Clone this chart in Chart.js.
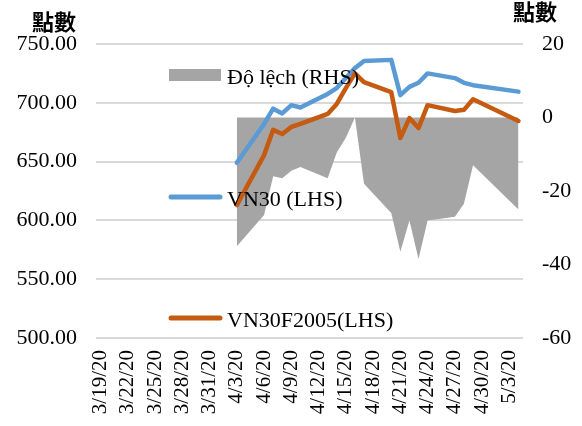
<!DOCTYPE html>
<html lang="vi">
<head>
  <meta charset="UTF-8" />
  <title>VN30 vs VN30F2005</title>
  <script src="https://cdn.jsdelivr.net/npm/chart.js"></script>
  <style>
    html, body { margin: 0; padding: 0; background: #fff; }
    #wrap { width: 582px; height: 426px; }
  </style>
</head>
<body>
  <div id="wrap"><canvas id="chart" width="582" height="426"></canvas></div>

  <script>
    // axis runs day by day from 3/19/20 to 5/4/20, labels every 3 days
    const axisStart = '3/19/20';
    const axisEnd = '5/4/20';
    const labelEvery = 3;

    const tradeDates = ['4/3/20', '4/6/20', '4/7/20', '4/8/20', '4/9/20', '4/10/20',
      '4/13/20', '4/14/20', '4/15/20', '4/16/20', '4/17/20', '4/20/20', '4/21/20',
      '4/22/20', '4/23/20', '4/24/20', '4/27/20', '4/28/20', '4/29/20', '5/4/20'];
    const vn30 = [649, 682, 695, 691, 698, 696, 707.5, 712.5, 721, 729.5, 735.5, 736.5,
      706.5, 713.5, 717, 725, 721, 717, 715, 709.5];
    const vn30f = [613, 655.5, 677, 673.5, 679.5, 682, 690.5, 699, 712.5, 725, 717.5, 709,
      670, 687, 678.5, 698, 693, 694, 703, 684.5];
    const deviation = [-35, -26.5, -16, -16.5, -14.5, -13.5, -16.5, -9.5, -5.5, 0, -18, -26,
      -36.5, -28, -38.5, -28, -27, -23.5, -13, -25];

    const leftTicks = [500, 750, 50];
    const rightTicks = [-60, 20, 20];
    const unitTitle = '點數';

    function parseDate(s) {
      const [m, d, y] = s.split('/').map(Number);
      return new Date(2000 + y, m - 1, d);
    }
    function fmt(dt) {
      return (dt.getMonth() + 1) + '/' + dt.getDate() + '/' + String(dt.getFullYear()).slice(2);
    }

    const days = [];
    for (let d = parseDate(axisStart); d <= parseDate(axisEnd); d.setDate(d.getDate() + 1)) {
      days.push(fmt(d));
    }
    function onAxis(values) {
      return days.map(day => {
        const i = tradeDates.indexOf(day);
        return i < 0 ? null : values[i];
      });
    }

    const serif = '"Liberation Serif", "Times New Roman", serif';

    const sideLegend = {
      id: 'sideLegend',
      afterDraw(chart) {
        const { ctx, chartArea } = chart;
        const rows = [31, 153, 274];
        ctx.save();
        ctx.font = '22px ' + serif;
        ctx.textBaseline = 'middle';
        ctx.fillStyle = '#000';
        chart.data.datasets.forEach((ds, i) => {
          const x = chartArea.left + 73;
          const y = chartArea.top + rows[i];
          if (ds.fill) {
            ctx.fillStyle = ds.backgroundColor;
            ctx.fillRect(x, y - 6, 52, 12);
          } else {
            ctx.strokeStyle = ds.borderColor;
            ctx.lineWidth = 5;
            ctx.lineCap = 'round';
            ctx.beginPath();
            ctx.moveTo(x + 2, y);
            ctx.lineTo(x + 51, y);
            ctx.stroke();
          }
          ctx.fillStyle = '#000';
          ctx.fillText(ds.label, x + 58, y + 3);
        });
        // unit titles above both axes
        ctx.font = 'bold 22px "Noto Sans CJK TC", sans-serif';
        ctx.textAlign = 'center';
        ctx.fillText(unitTitle, 54, 22);
        ctx.fillText(unitTitle, 535, 12);
        ctx.restore();
      }
    };

    new Chart(document.getElementById('chart'), {
      type: 'line',
      data: {
        labels: days,
        datasets: [
          {
            label: 'Độ lệch (RHS)',
            data: onAxis(deviation),
            yAxisID: 'yR',
            fill: 'origin',
            backgroundColor: '#a5a5a5',
            borderWidth: 0,
            pointRadius: 0,
            spanGaps: true,
            order: 3,
          },
          {
            label: 'VN30 (LHS)',
            data: onAxis(vn30),
            yAxisID: 'yL',
            borderColor: '#5b9bd5',
            borderWidth: 4.5,
            fill: false,
            pointRadius: 0,
            spanGaps: true,
            borderJoinStyle: 'round',
            borderCapStyle: 'round',
            order: 2,
          },
          {
            label: 'VN30F2005(LHS)',
            data: onAxis(vn30f),
            yAxisID: 'yL',
            borderColor: '#c55a11',
            borderWidth: 4.5,
            fill: false,
            pointRadius: 0,
            spanGaps: true,
            borderJoinStyle: 'round',
            borderCapStyle: 'round',
            order: 1,
          },
        ],
      },
      options: {
        responsive: false,
        animation: false,
        layout: { padding: { top: 44, left: 0, right: 0, bottom: 0 } },
        plugins: {
          legend: { display: false },
          tooltip: { enabled: false },
        },
        scales: {
          x: {
            offset: true,
            grid: { display: false, drawTicks: false },
            border: { display: false },
            ticks: {
              autoSkip: false,
              minRotation: 90,
              maxRotation: 90,
              padding: 12,
              color: '#000',
              font: { family: serif, size: 21 },
              callback: (v, i) => (i % labelEvery === 0 ? days[i] : null),
            },
            afterFit: s => { s.height = 88; },
          },
          yL: {
            position: 'left',
            min: leftTicks[0],
            max: leftTicks[1],
            grid: { color: '#d9d9d9', lineWidth: 2, drawTicks: false },
            border: { display: false },
            ticks: {
              stepSize: leftTicks[2],
              padding: 19,
              color: '#000',
              font: { family: serif, size: 22 },
              callback: v => v.toFixed(2),
            },
            afterFit: s => { s.width = 96; },
          },
          yR: {
            position: 'right',
            min: rightTicks[0],
            max: rightTicks[1],
            grid: { display: false, drawTicks: false },
            border: { display: false },
            ticks: {
              stepSize: rightTicks[2],
              padding: 19,
              color: '#000',
              font: { family: serif, size: 22 },
            },
            afterFit: s => { s.width = 59; },
          },
        },
      },
      plugins: [sideLegend],
    });
  </script>
</body>
</html>
